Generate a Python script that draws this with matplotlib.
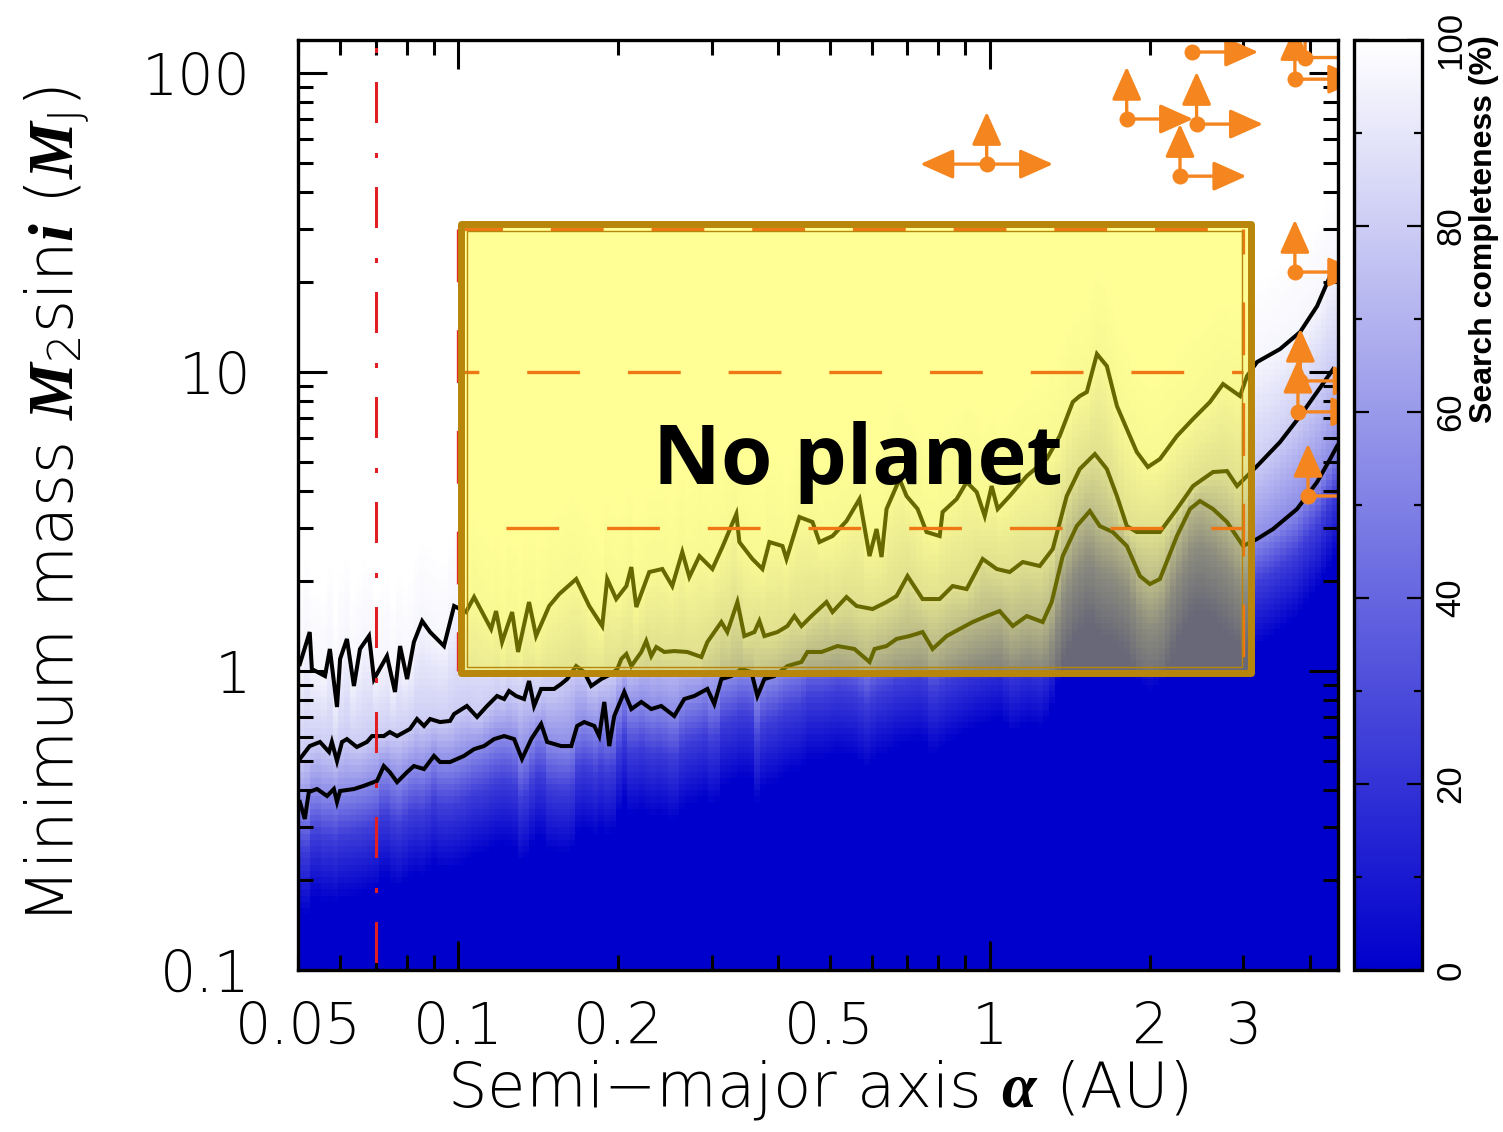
import numpy as np
import matplotlib
matplotlib.use("Agg")
import matplotlib.pyplot as plt
from matplotlib.colors import LinearSegmentedColormap
from matplotlib.patches import Rectangle, FancyArrowPatch
from matplotlib.ticker import FixedLocator, FuncFormatter, LogLocator, MultipleLocator

plt.rcParams['font.family'] = ['DejaVu Sans']
plt.rcParams['font.weight'] = 'light'
plt.rcParams['axes.labelweight'] = 'light'
plt.rcParams['mathtext.fontset'] = 'custom'
plt.rcParams['mathtext.it'] = 'Liberation Serif:italic:bold'
plt.rcParams['mathtext.rm'] = 'DejaVu Sans:light'
plt.rcParams['lines.scale_dashes'] = False

# ---------------- data ----------------
A_MIN, A_MAX = 0.05, 4.52          # AU
M_MIN, M_MAX = 0.1, 129.0          # M_J

# completeness contours (a [AU], M2 sin i [M_J]), top / middle / bottom curve
top_contour = [
    (0.0504, 1.055), (0.0526, 1.350), (0.0531, 1.015), (0.0562, 0.962), (0.0574, 1.185),
    (0.0592, 0.758), (0.0600, 1.097), (0.0618, 1.280), (0.0637, 0.891), (0.0654, 1.185),
    (0.0680, 1.310), (0.0695, 0.940), (0.0735, 1.122), (0.0761, 0.851), (0.0778, 1.212),
    (0.0802, 0.940), (0.0826, 1.250), (0.0856, 1.470), (0.0886, 1.350), (0.0941, 1.212),
    (0.0983, 1.650),
    (0.1035, 1.575), (0.1072, 1.768), (0.1154, 1.382), (0.1179, 1.587), (0.1210, 1.250),
    (0.1264, 1.575), (0.1297, 1.158), (0.1360, 1.701), (0.1402, 1.310), (0.1484, 1.650),
    (0.1550, 1.809), (0.1668, 2.031), (0.1765, 1.650), (0.1867, 1.414), (0.1908, 2.031),
    (0.1984, 1.741), (0.2073, 1.924), (0.2118, 2.227), (0.2164, 1.637), (0.2289, 2.143),
    (0.2422, 2.194), (0.2529, 1.924), (0.2641, 2.500), (0.2723, 2.063), (0.2844, 2.424),
    (0.3009, 2.194), (0.3142, 2.598), (0.3338, 3.351), (0.3382, 2.700), (0.3578, 2.370),
    (0.3737, 2.194), (0.3852, 2.700), (0.4076, 2.619), (0.4147, 2.370), (0.4386, 3.274),
    (0.4642, 3.150), (0.4784, 2.700), (0.5062, 2.828), (0.5378, 3.174),
    (0.5691, 3.761), (0.5943, 2.424), (0.6126, 2.985), (0.6260, 2.406), (0.6397, 3.483),
    (0.6768, 4.386), (0.6976, 3.848), (0.7318, 3.483), (0.7607, 2.917), (0.8052, 2.828),
    (0.8156, 3.402), (0.8667, 3.761), (0.9050, 4.286), (0.9452, 3.968), (0.9786, 3.299),
    (1.0087, 4.157), (1.0353, 3.483), (1.0905, 3.848), (1.174, 4.489), (1.280, 5.117),
    (1.354, 6.109), (1.433, 7.940), (1.477, 8.313), (1.523, 8.574), (1.591, 11.49),
    (1.661, 10.47), (1.735, 7.699), (1.811, 6.447), (1.891, 5.401), (1.984, 4.812),
    (2.090, 5.117), (2.250, 6.109), (2.412, 6.964), (2.596, 7.940), (2.747, 9.118),
    (2.957, 8.313), (3.048, 9.697),
    (3.183, 10.80), (3.517, 11.94), (3.836, 13.61), (4.129, 16.62), (4.368, 20.95), (4.503, 22.11),
]
mid_contour = [
    (0.0504, 0.508), (0.0526, 0.561), (0.0550, 0.579), (0.0572, 0.536), (0.0579, 0.579),
    (0.0592, 0.500), (0.0605, 0.579), (0.0618, 0.592), (0.0645, 0.557), (0.0674, 0.579),
    (0.0689, 0.606), (0.0725, 0.606), (0.0744, 0.625), (0.0768, 0.606), (0.0812, 0.640),
    (0.0837, 0.691), (0.0863, 0.655), (0.0886, 0.691), (0.0925, 0.675), (0.0966, 0.681),
    (0.0983, 0.718), (0.1039, 0.764), (0.1086, 0.702), (0.1134, 0.764), (0.1184, 0.825),
    (0.1221, 0.806), (0.1247, 0.857), (0.1286, 0.825), (0.1331, 0.806), (0.1360, 0.926),
    (0.1390, 0.764), (0.1433, 0.871), (0.1516, 0.871), (0.1563, 0.905), (0.1604, 0.940),
    (0.1668, 1.039), (0.1727, 0.992), (0.1780, 0.891), (0.1859, 0.940), (0.1941, 0.977),
    (0.1993, 1.015), (0.2028, 1.097), (0.2073, 1.140), (0.2118, 1.039), (0.2212, 1.158),
    (0.2259, 1.260), (0.2309, 1.122), (0.2360, 1.203), (0.2443, 1.158), (0.2551, 1.166),
    (0.2699, 1.158), (0.2869, 1.114), (0.2944, 1.250), (0.3128, 1.458), (0.3210, 1.350),
    (0.3353, 1.701), (0.3456, 1.309), (0.3609, 1.350), (0.3688, 1.470), (0.3769, 1.309),
    (0.3988, 1.350), (0.4164, 1.414), (0.4292, 1.527), (0.4425, 1.414), (0.4621, 1.527),
    (0.4932, 1.701), (0.5062, 1.575), (0.5378, 1.768), (0.5617, 1.650), (0.6021, 1.612),
    (0.6397, 1.701), (0.6680, 1.781), (0.7006, 2.078), (0.7477, 1.741), (0.8052, 1.741),
    (0.8518, 1.924), (0.9050, 1.880), (0.9701, 2.370), (1.031, 2.194), (1.0905, 2.143),
    (1.154, 2.315), (1.242, 2.245), (1.314, 2.559), (1.396, 3.848), (1.477, 4.737),
    (1.577, 5.318), (1.661, 4.737), (1.735, 3.848), (1.811, 3.054), (1.891, 2.917),
    (2.090, 2.917), (2.250, 3.483), (2.412, 4.157), (2.630, 4.629), (2.795, 4.665),
    (2.919, 4.157), (3.048, 4.489),
    (3.183, 4.848), (3.517, 5.834), (3.836, 7.127), (4.129, 8.574), (4.426, 10.23),
]
low_contour = [
    (0.0504, 0.365), (0.0515, 0.320), (0.0524, 0.394), (0.0543, 0.403), (0.0567, 0.382),
    (0.0584, 0.403), (0.0592, 0.365), (0.0600, 0.397), (0.0637, 0.403), (0.0665, 0.413),
    (0.0704, 0.429), (0.0725, 0.481), (0.0744, 0.459), (0.0768, 0.425), (0.0802, 0.459),
    (0.0826, 0.481), (0.0863, 0.470), (0.0901, 0.520), (0.0925, 0.496), (0.0966, 0.496),
    (0.1026, 0.520), (0.1072, 0.548), (0.1119, 0.561), (0.1169, 0.592), (0.1221, 0.606),
    (0.1275, 0.592), (0.1319, 0.508), (0.1373, 0.592), (0.1433, 0.665), (0.1471, 0.579),
    (0.1563, 0.561), (0.1633, 0.561), (0.1675, 0.655), (0.1727, 0.675), (0.1804, 0.655),
    (0.1843, 0.606), (0.1884, 0.788), (0.1925, 0.561), (0.1967, 0.707), (0.2054, 0.851),
    (0.2118, 0.746), (0.2212, 0.788), (0.2309, 0.746), (0.2411, 0.764), (0.2551, 0.707),
    (0.2664, 0.806), (0.2782, 0.825), (0.2944, 0.871), (0.3034, 0.776), (0.3128, 0.940),
    (0.3266, 0.962), (0.3411, 1.015), (0.3563, 0.992), (0.3656, 0.825), (0.3769, 0.940),
    (0.3936, 0.962), (0.4164, 1.039), (0.4425, 1.072), (0.4541, 1.158), (0.4827, 1.158),
    (0.5173, 1.212), (0.5566, 1.185),
    (0.5943, 1.072), (0.6074, 1.185), (0.6397, 1.212), (0.6680, 1.280), (0.7067, 1.309),
    (0.7477, 1.350), (0.7809, 1.185), (0.8299, 1.309), (0.8779, 1.382), (0.9289, 1.458),
    (0.9871, 1.527), (1.044, 1.587), (1.105, 1.414), (1.174, 1.527), (1.258, 1.458),
    (1.308, 1.701), (1.372, 2.424), (1.458, 3.054), (1.543, 3.428), (1.611, 3.054),
    (1.704, 2.917), (1.811, 2.619), (1.917, 2.078), (2.001, 1.954), (2.090, 2.031),
    (2.250, 2.828), (2.381, 3.483), (2.486, 3.704), (2.630, 3.483), (2.795, 3.150),
    (2.996, 2.619),
    (3.183, 2.764), (3.412, 2.985), (3.786, 3.483), (4.129, 4.286), (4.368, 5.117), (4.503, 5.656),
]
contour_levels = [96, 80, 55]   # % completeness on top / middle / bottom curve

# orange lower limits: position and which arrows are drawn
limit_a = [0.987, 1.81, 2.45, 2.28, 2.40, 3.75, 3.92, 3.75, 3.84, 3.80, 3.97]
limit_m = [49.6, 70.2, 67.5, 45.2, 117.6, 95.4, 112.7, 21.6, 9.34, 7.36, 3.85]
limit_up = [1, 1, 1, 1, 0, 1, 1, 1, 1, 1, 1]
limit_right = [1, 1, 1, 1, 1, 1, 1, 1, 1, 1, 1]
limit_left = [1, 0, 0, 0, 0, 0, 0, 0, 0, 0, 0]

box_a = (0.1, 3.0)       # "No planet" region
box_m = (1.0, 30.0)
box_dashed_m = [30.0, 10.0, 3.0]
inner_a = 0.07           # red dash-dot line

# ---------------- completeness map built from the contours ----------------
la_edges = np.linspace(np.log10(A_MIN), np.log10(A_MAX), 181)
lm_edges = np.linspace(np.log10(M_MIN), np.log10(M_MAX), 151)
la_c = 0.5 * (la_edges[1:] + la_edges[:-1])
lm_c = 0.5 * (lm_edges[1:] + lm_edges[:-1])

def curve_on_grid(c):
    c = np.array(c)
    return np.interp(la_c, np.log10(c[:, 0]), np.log10(c[:, 1]))

c_hi, c_mid, c_lo = (curve_on_grid(c) for c in (top_contour, mid_contour, low_contour))
c_mid = np.maximum(c_mid, c_lo + 0.01)
c_hi = np.maximum(c_hi, c_mid + 0.01)
L_hi, L_mid, L_lo = contour_levels
Z = np.empty((lm_c.size, la_c.size))
for j in range(la_c.size):
    nodes = [c_lo[j] - 0.36, c_lo[j] - 0.15, c_lo[j], c_mid[j], c_hi[j], c_hi[j] + 0.3]
    Z[:, j] = np.interp(lm_c, nodes, [0, 24, L_lo, L_mid, L_hi, 100])

# ---------------- figure ----------------
W, H = 1503, 1132
fig = plt.figure(figsize=(W / 100, H / 100), dpi=100)
ax = fig.add_axes([298 / W, 1 - 970 / H, 1040 / W, 930 / H])
cax = fig.add_axes([1354 / W, 1 - 970 / H, 68 / W, 930 / H])

cmap = LinearSegmentedColormap.from_list('compl', ['#0000CC', '#FFFFFF'])
mesh = ax.pcolormesh(10 ** la_edges, 10 ** lm_edges, Z, cmap=cmap, vmin=0, vmax=100,
                     shading='flat', rasterized=True, zorder=1)
ax.set_xscale('log'); ax.set_yscale('log')
ax.set_xlim(A_MIN, A_MAX); ax.set_ylim(M_MIN, M_MAX)

for c in (top_contour, mid_contour, low_contour):
    c = np.array(c)
    ax.plot(c[:, 0], c[:, 1], color='k', lw=2.9, zorder=3, solid_joinstyle='miter')

# red dash-dot line, drawn top-down so the dash phase matches
ax.plot([inner_a, inner_a], [M_MAX, M_MIN], color='#E01E24', lw=2.2, zorder=3,
        linestyle=(45.7, (29.5, 21.6, 3.6, 20.9)), dash_capstyle='butt')

# box drawn in axes fractions so the border can sit a few pixels off the data edges
ax_w, ax_h = 1040.0, 930.0
def frac(a, m):
    fx = (np.log10(a) - np.log10(A_MIN)) / (np.log10(A_MAX) - np.log10(A_MIN))
    fy = (np.log10(m) - np.log10(M_MIN)) / (np.log10(M_MAX) - np.log10(M_MIN))
    return fx, fy

def box_patch(pad_l, pad_r, pad_t, pad_b, **kw):
    x0, y0 = frac(box_a[0], box_m[0])
    x1, y1 = frac(box_a[1], box_m[1])
    x0 -= pad_l / ax_w; x1 += pad_r / ax_w
    y0 -= pad_b / ax_h; y1 += pad_t / ax_h
    return Rectangle((x0, y0), x1 - x0, y1 - y0, transform=ax.transAxes, **kw)

ax.add_patch(box_patch(-2.5, 8, 5, 2, facecolor=(1, 1, 0, 0.41), edgecolor='none', zorder=4))

dash = (38, 34.5)
for m, off in zip(box_dashed_m, (6, 23, 38)):
    ax.plot(box_a, [m, m], color='#F07814', lw=2.4, zorder=5, linestyle=(off, dash))
ax.plot([box_a[0]] * 2, box_m[::-1], color='#E5262A', lw=2.4, zorder=5, linestyle=(0, dash))
ax.plot([box_a[1]] * 2, box_m[::-1], color='#F07814', lw=2.4, zorder=5, linestyle=(20, dash))

ax.add_patch(box_patch(-9, -1.5, -1.5, -4, facecolor='none', edgecolor='#B8860B', lw=1.0, zorder=6))
ax.add_patch(box_patch(-2.5, 8, 5, 2, facecolor='none', edgecolor='#B8860B', lw=5.0,
                       joinstyle='round', zorder=6))

ax.text(0.564, 4.22, 'No planet', family=['Open Sans', 'DejaVu Sans'], weight='bold',
        fontsize=60, ha='center', va='baseline', color='k', zorder=7)

# lower limits
ORANGE = '#F5861F'
UP, SIDE = 0.175, 0.125   # arrow lengths in dex
for a, m, u, r, l in zip(limit_a, limit_m, limit_up, limit_right, limit_left):
    ends = []
    if u: ends.append((a, m * 10 ** UP))
    if r: ends.append((a * 10 ** SIDE, m))
    if l: ends.append((a / 10 ** SIDE, m))
    for e in ends:
        ax.add_patch(FancyArrowPatch((a, m), e, arrowstyle='-|>,head_length=0.85,head_width=0.38',
                                     mutation_scale=24, color=ORANGE, lw=2.4,
                                     shrinkA=0, shrinkB=0, zorder=8))
    ax.plot(a, m, 'o', color=ORANGE, ms=11.5, mec='none', zorder=9)

# ticks
ax.xaxis.set_major_locator(FixedLocator([0.1, 1]))
ax.xaxis.set_minor_locator(LogLocator(base=10, subs=np.arange(2, 10)))
x_lab = {0.05: '0.05', 0.1: '0.1', 0.2: '0.2', 0.5: '0.5', 1: '1', 2: '2', 3: '3'}
def fmt_x(v, p):
    for k, s in x_lab.items():
        if abs(v - k) < 1e-6 * k:
            return s
    return ''
ax.xaxis.set_major_formatter(FuncFormatter(fmt_x))
ax.xaxis.set_minor_formatter(FuncFormatter(fmt_x))
ax.yaxis.set_major_locator(FixedLocator([0.1, 1, 10, 100]))
ax.yaxis.set_minor_locator(LogLocator(base=10, subs=np.arange(2, 10)))
ax.yaxis.set_major_formatter(FuncFormatter(lambda v, p: {0.1: '0.1', 1: '1', 10: '10', 100: '100'}.get(round(v, 3), '')))
ax.yaxis.set_minor_formatter(FuncFormatter(lambda v, p: ''))
ax.tick_params(which='both', direction='in', top=True, right=True, width=2.2,
               labelsize=41, colors='k')
ax.tick_params(which='major', length=21)
ax.tick_params(which='minor', length=11)
ax.tick_params(axis='x', which='both', pad=22)
ax.tick_params(axis='y', which='both', pad=34)
for s in ax.spines.values():
    s.set_linewidth(2.4); s.set_zorder(10)

ax.set_xlabel(r'Semi−major axis $\mathit{\alpha}$ (AU)', fontsize=45, labelpad=2)
ax.set_ylabel(r'Minimum mass $\mathit{M}_{\mathregular{2}}\mathregular{sin}\mathit{i}$ ($\mathit{M}_{\mathregular{J}}$)',
              fontsize=46, labelpad=36)

# colorbar
cb = fig.colorbar(mesh, cax=cax)
cb.outline.set_linewidth(2.4)
cb.set_ticks([0, 20, 40, 60, 80, 100])
cax.yaxis.set_minor_locator(MultipleLocator(10))
NARROW = ['Liberation Sans Narrow', 'Liberation Sans', 'DejaVu Sans']
cax.tick_params(which='both', direction='in', left=True, right=True, width=1.6,
                labelleft=False, labelright=True, pad=9)
cax.tick_params(which='major', length=11)
cax.tick_params(which='minor', length=6)
for t in cax.get_yticklabels():
    t.set_rotation(90); t.set_va('center'); t.set_ha('left')
    t.set_family(NARROW); t.set_fontsize(25); t.set_weight('normal')
fig.text(1484 / W, 1 - 229 / H, 'Search completeness (%)', rotation=90, ha='center', va='center',
         family=NARROW, weight='bold', fontsize=23)

fig.savefig('out.png', dpi=100)
